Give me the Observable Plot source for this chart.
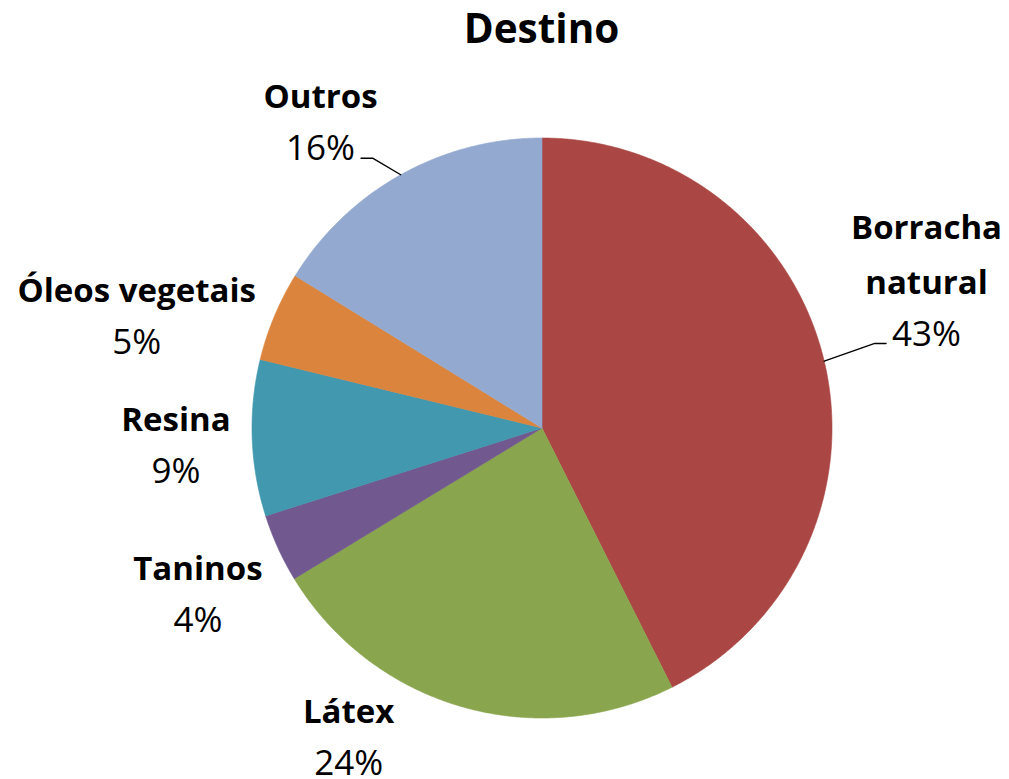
<!DOCTYPE html>
<html><head><meta charset="utf-8">
<script src="https://cdn.jsdelivr.net/npm/d3@7"></script>
<script src="https://cdn.jsdelivr.net/npm/@observablehq/plot@0.6"></script>
<style>
body{margin:0;background:#fff;}
#chart{width:1009px;height:779px;overflow:hidden;position:relative;background:#fff;}
#title{width:1009px;height:56px;box-sizing:border-box;padding-top:0;padding-left:74px;font:bold 40.5px "Open Sans",sans-serif;line-height:normal;text-align:center;color:#000;white-space:nowrap;}
#plot svg{display:block;}
</style></head><body>
<div id="chart"><div id="title">Destino</div><div id="plot"></div></div>
<script>
// ---- data ----
const categories = ["Borracha natural", "Látex", "Taninos", "Resina", "Óleos vegetais", "Outros"];
const shares = [42.6, 23.7, 3.8, 8.7, 5.0, 16.2];
const labelNames = ["Borracha\nnatural", "Látex", "Taninos", "Resina", "Óleos vegetais", "Outros"];
const colors = ["#AA4643", "#89A54E", "#71588F", "#4198AF", "#DB843D", "#93A9CF"];

// ---- layout (label placement, polar around pie centre, in radius units) ----
const labelAngle = [77.9, 209.1, 239.3, 261.5, 280.4, 320.4];
const labelRadius = [1.356, 1.371, 1.380, 1.276, 1.421, 1.198];
const hasLeader = [true, false, false, false, false, true];

const W = 1009, H = 723, R = 290, cx = 541.5, cy = 371.5;
const xDomain = [-cx / R, (W - cx) / R];
const yDomain = [-(H - cy) / R, cy / R];
const pctSize = 35, nameSize = 33, FONT = "Open Sans";

const rows = categories.map((c, i) => ({cat: c, value: shares[i]}));
const total = d3.sum(shares);
const arcs = d3.pie().sort(null).value(d => d.value)(rows);

// slice polygons in data space (unit radius)
const polys = [];
arcs.forEach(a => {
  const cat = a.data.cat;
  const n = Math.max(2, Math.ceil((a.endAngle - a.startAngle) / (Math.PI / 720)));
  polys.push({cat, x: 0, y: 0});
  for (let i = 0; i <= n; i++) {
    const t = a.startAngle + (a.endAngle - a.startAngle) * i / n;
    polys.push({cat, x: Math.sin(t), y: Math.cos(t)});
  }
  polys.push({cat, x: 0, y: 0});
});

const ctx = document.createElement("canvas").getContext("2d");
ctx.font = `${pctSize}px "${FONT}"`;

const labels = arcs.map((a, i) => {
  const t = labelAngle[i] * Math.PI / 180;
  return {
    cat: a.data.cat,
    name: labelNames[i],
    pct: Math.round(a.data.value / total * 100) + "%",
    x: Math.sin(t) * labelRadius[i],
    y: Math.cos(t) * labelRadius[i],
    mid: (a.startAngle + a.endAngle) / 2
  };
});

// leader lines: slice edge at mid-angle -> elbow -> beside the percentage text
const leaders = [];
labels.forEach((l, i) => {
  if (!hasLeader[i]) return;
  const ex = Math.sin(l.mid), ey = Math.cos(l.mid);
  const half = ctx.measureText(l.pct).width / 2 / R;
  const side = l.x > ex ? -1 : 1; // -1: label right of edge
  const endX = l.x + side * (half + 6 / R);
  const endY = l.y + 2 / R;
  const elbowX = endX + side * 12 / R;
  leaders.push({id: i, x: ex, y: ey}, {id: i, x: elbowX, y: endY}, {id: i, x: endX, y: endY});
});

const chart = Plot.plot({
  width: W, height: H, margin: 0,
  style: {background: "#fff"},
  x: {domain: xDomain, range: [0, W], axis: null},
  y: {domain: yDomain, range: [H, 0], axis: null},
  color: {domain: categories, range: colors},
  marks: [
    Plot.line(polys, {x: "x", y: "y", z: "cat", fill: "cat", stroke: "cat", strokeWidth: 0.6, curve: "linear"}),
    Plot.line(leaders, {x: "x", y: "y", z: "id", stroke: "#000", strokeWidth: 1.4, curve: "linear"}),
    Plot.text(labels, {x: "x", y: "y", text: "name", fontFamily: FONT, fontSize: nameSize, fontWeight: "bold",
      lineAnchor: "bottom", lineHeight: 1.65, dy: -52, textAnchor: "middle", fill: "#000"}),
    Plot.text(labels, {x: "x", y: "y", text: "pct", fontFamily: FONT, fontSize: pctSize,
      lineAnchor: "bottom", textAnchor: "middle", fill: "#000"})
  ]
});
document.getElementById("plot").appendChild(chart);
</script>
</body></html>
